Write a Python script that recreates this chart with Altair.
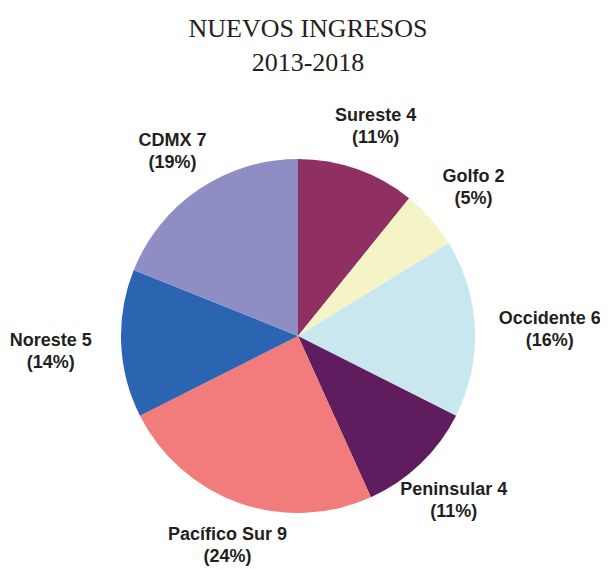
import altair as alt
import pandas as pd

regions = ["Sureste", "Golfo", "Occidente", "Peninsular", "Pacífico Sur", "Noreste", "CDMX"]
values = [4, 2, 6, 4, 9, 5, 7]
percents = [11, 5, 16, 11, 24, 14, 19]
colors = ["#8F2F62", "#F5F4C6", "#C9E7EE", "#5F1D5F", "#F27B7B", "#2B64B0", "#8E8EC5"]

df = pd.DataFrame({
    "idx": list(range(len(regions))),
    "region": regions,
    "v": values,
    "label": [f"{r} {v}\n({p}%)" for r, v, p in zip(regions, values, percents)],
})

CX, CY = 290, 238

arcs = alt.Chart(df).mark_arc(radius=177, stroke=None).encode(
    theta=alt.Theta("v:Q", stack=True),
    order=alt.Order("idx:Q"),
    color=alt.Color("region:N", scale=alt.Scale(domain=regions, range=colors), legend=None),
    x=alt.value(CX), y=alt.value(CY),
)

texts = alt.Chart(df).transform_joinaggregate(
    total="sum(v)"
).transform_window(
    cum="sum(v)", sort=[alt.SortField("idx")], frame=[None, 0]
).transform_calculate(
    mid="2*PI*(datum.cum - datum.v/2)/datum.total",
    r="227 + 23*pow(abs(sin(datum.mid)), 6) - 10*max(0, -cos(datum.mid))",
    px=f"{CX} + datum.r*sin(datum.mid)",
    py=f"{CY} - datum.r*cos(datum.mid)",
    lines="split(datum.label, '\\n')",
).mark_text(
    font="Liberation Sans", fontWeight="bold", fontSize=18, color="#231F20",
    lineHeight=22, align="center", baseline="middle", dx=2, dy=-6,
).encode(
    text="lines:N",
    x=alt.X("px:Q", scale=None, axis=None),
    y=alt.Y("py:Q", scale=None, axis=None),
)

chart = alt.layer(arcs, texts).properties(
    width=592, height=472,
    padding={"left": 0, "right": 0, "top": 90, "bottom": 0},
    autosize=alt.AutoSizeParams(type="none"),
    title=alt.TitleParams(
        text="NUEVOS INGRESOS", subtitle="2013-2018",
        font="Liberation Serif", fontSize=26, fontWeight="normal", color="#231F20",
        subtitleFont="Liberation Serif", subtitleFontSize=26, subtitleColor="#231F20",
        subtitlePadding=8, anchor="middle", dx=4, offset=22,
    ),
).configure_view(stroke=None)

chart.save("out.html", embed_options={"renderer": "svg", "actions": False})
